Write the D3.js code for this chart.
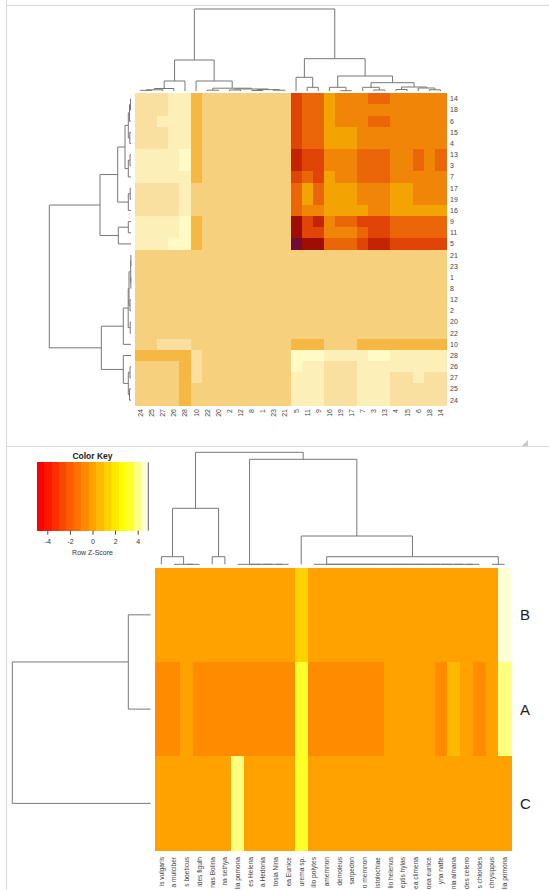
<!DOCTYPE html>
<html>
<head>
<meta charset="utf-8">
<script src="https://cdn.jsdelivr.net/npm/d3@7"></script>
<style>
  body { margin: 0; background: #fff; }
  svg { display: block; font-family: "Liberation Sans", Arial, sans-serif; }
</style>
</head>
<body>
<svg id="chart" width="549" height="890"></svg>
<script>
// ---------- TOP HEATMAP (28 x 28) ----------
var topRowLabels = ['14','18','6','15','4','13','3','7','17','19','16','9','11','5',
                    '21','23','1','8','12','2','20','22','10','28','26','27','25','24'];
var topColLabels = ['24','25','27','26','28','10','22','20','2','12','8','1','23','21',
                    '5','11','9','16','19','17','7','3','13','4','15','6','18','14'];
// colour level per cell (0 = palest, 11 = darkest), rows in topRowLabels order
var topValues = [
  [2,2,2,1,1,4,3,3,3,3,3,3,3,3,8,7,7,5,6,6,6,7,7,6,6,6,6,6],
  [2,2,2,1,1,4,3,3,3,3,3,3,3,3,8,7,7,5,6,6,6,6,6,6,6,6,6,6],
  [2,2,1,1,1,4,3,3,3,3,3,3,3,3,8,7,7,5,6,6,6,7,7,6,6,6,6,6],
  [2,2,2,1,1,4,3,3,3,3,3,3,3,3,8,7,7,5,5,5,6,6,6,6,6,6,6,6],
  [2,2,2,1,1,4,3,3,3,3,3,3,3,3,8,7,7,5,5,5,6,6,6,6,6,6,6,6],
  [1,1,1,1,0,4,3,3,3,3,3,3,3,3,9,8,8,6,6,6,7,7,7,6,6,7,6,7],
  [1,1,1,1,0,4,3,3,3,3,3,3,3,3,9,8,8,6,6,6,7,7,7,6,6,7,6,7],
  [1,1,1,1,1,4,3,3,3,3,3,3,3,3,8,7,8,5,6,6,7,7,7,6,6,6,6,6],
  [2,2,2,2,1,3,3,3,3,3,3,3,3,3,7,5,7,5,5,5,6,6,6,5,5,6,6,6],
  [2,2,2,2,1,3,3,3,3,3,3,3,3,3,7,5,7,5,5,5,6,6,6,5,5,6,6,6],
  [2,2,2,2,1,3,3,3,3,3,3,3,3,3,7,6,6,5,5,5,5,6,6,5,5,5,5,5],
  [1,1,1,1,0,4,3,3,3,3,3,3,3,3,10,8,9,6,7,7,8,8,8,7,7,7,7,7],
  [1,1,1,1,0,4,3,3,3,3,3,3,3,3,10,8,8,6,6,6,7,8,8,7,7,7,7,7],
  [1,1,1,0,0,4,3,3,3,3,3,3,3,3,11,10,10,7,7,7,8,9,9,8,8,8,8,8],
  [3,3,3,3,3,3,3,3,3,3,3,3,3,3,3,3,3,3,3,3,3,3,3,3,3,3,3,3],
  [3,3,3,3,3,3,3,3,3,3,3,3,3,3,3,3,3,3,3,3,3,3,3,3,3,3,3,3],
  [3,3,3,3,3,3,3,3,3,3,3,3,3,3,3,3,3,3,3,3,3,3,3,3,3,3,3,3],
  [3,3,3,3,3,3,3,3,3,3,3,3,3,3,3,3,3,3,3,3,3,3,3,3,3,3,3,3],
  [3,3,3,3,3,3,3,3,3,3,3,3,3,3,3,3,3,3,3,3,3,3,3,3,3,3,3,3],
  [3,3,3,3,3,3,3,3,3,3,3,3,3,3,3,3,3,3,3,3,3,3,3,3,3,3,3,3],
  [3,3,3,3,3,3,3,3,3,3,3,3,3,3,3,3,3,3,3,3,3,3,3,3,3,3,3,3],
  [3,3,3,3,3,3,3,3,3,3,3,3,3,3,3,3,3,3,3,3,3,3,3,3,3,3,3,3],
  [3,3,2,2,2,3,3,3,3,3,3,3,3,3,4,4,4,3,3,3,4,4,4,4,4,4,4,4],
  [4,4,4,4,4,2,3,3,3,3,3,3,3,3,0,0,0,1,1,1,1,0,0,1,1,1,1,1],
  [3,3,3,3,4,2,3,3,3,3,3,3,3,3,0,1,1,2,2,2,1,1,1,1,1,1,1,1],
  [3,3,3,3,4,2,3,3,3,3,3,3,3,3,1,1,1,2,2,2,1,1,1,2,2,1,2,2],
  [3,3,3,3,4,3,3,3,3,3,3,3,3,3,1,1,1,2,2,2,1,1,1,2,2,2,2,2],
  [3,3,3,3,4,3,3,3,3,3,3,3,3,3,1,1,1,2,2,2,1,1,1,2,2,2,2,2]
];
var topPalette = ['#fffac6','#fcefb8','#f9e0a0','#f6d07c','#f6b843','#f3a302',
                  '#f08507','#ea6608','#e04406','#c32403','#a00d04','#730a3a'];

// dendrograms: [height, left, right]
var topColTree = [82,
  [31,
    [10, [2.5, [1.2, [0.6, '24', '25'], '27'], '26'], '28'],
    [10, '10', [2.8, [0.8, '22', '20'], [2.0, [1.0, '2', '12'], [1.4, [0.5, '8', '1'], [0.8, '23', '21']]]]]],
  [32.3,
    [13.7, '5', [3.7, '11', '9']],
    [15,
      [3.7, '16', [0.3, '19', '17']],
      [8.3,
        [3.7, '7', [1.0, '3', '13']],
        [4, [1.5, '4', '15'], [3.0, '6', [1.2, '18', '14']]]]]]];

var topRowTree = [81.7,
  [31,
    [13.3,
      [6, [2.7, [1.5, [0.5, '14', '18'], '6'], [1.2, '15', '4']], [2.7, [1.0, '13', '3'], '7']],
      [2.7, [0.8, '17', '19'], '16']],
    [12.7, [2.7, '9', '11'], '5']],
  [29.7,
    [7.7, [2.8, [2.0, [0.3, [0.1, '21', '23'], [0.15, '1', '8']], [1.0, '12', '2']], [0.8, '20', '22']], '10'],
    [7.7, '28', [2.7, [1.0, '26', '27'], [1.5, '25', '24']]]]];

// ---------- BOTTOM HEATMAP (3 x 28) ----------
var botRowLabels = ['B', 'A', 'C'];
var botColLabels = ['is vulgaris', 'Euploea mulciber', 'Lampides boeticus', 'ides figulh',
  'Hypolimnas Bolina', 'na sethya', 'Catopsilia pomona', 'Troides Helena', 'a Hedonia',
  'Leptosia Nina', 'Euploea Eunice', 'Eurema sp.', 'Papilio polytes', 'Graphium agamemnon',
  'Papilio demoleus', 'Graphium sarpedon', 'Papilio memnon', 'Pachliopta aristolochiae',
  'Papilio helenus', 'Neptis hylas', 'Euploea climena', 'Euploea eunice', 'yna nafte',
  'Junonia almana', 'Jamides celeno', 's chlorides', 'Danaus chrysippus', 'Catopsilia pomona'];
var zB = [-0.23,-0.23,-0.23,-0.23,-0.23,-0.23,-0.23,-0.23,-0.23,-0.23,-0.23,1.3,-0.23,-0.23,
          -0.23,-0.23,-0.23,-0.23,-0.23,-0.23,-0.23,-0.23,-0.23,-0.23,-0.23,-0.23,-0.23,4.7];
var zA = [-0.6,-0.6,0.0,-0.6,-0.6,-0.6,-0.6,-0.6,-0.6,-0.6,-0.6,3.3,-0.6,-0.6,
          -0.6,-0.6,-0.6,-0.6,0.0,0.0,0.0,0.0,-0.6,0.6,0.0,-0.6,0.0,3.9];
var zC = [-0.28,-0.28,-0.28,-0.28,-0.28,-0.28,3.9,-0.28,-0.28,-0.28,-0.28,3.3,-0.28,-0.28,
          -0.28,-0.28,-0.28,-0.28,-0.28,-0.28,-0.28,-0.28,-0.28,-0.28,-0.28,-0.28,-0.28,-0.28];
var botValues = [zB, zA, zC];
var zLimit = 4.94;
var keyTicks = [-4, -2, 0, 2, 4];
// R heat.colors(15)
var heatColors = ['#FF0000','#FF1700','#FF2E00','#FF4600','#FF5D00','#FF7400','#FF8B00','#FFA200',
                  '#FFB900','#FFD100','#FFE800','#FFFF00','#FFFF2A','#FFFF80','#FFFFD5'];

// flat (zero height) chain of leaves
function flat(list) {
  return list.length === 1 ? list[0] : [0, list[0], flat(list.slice(1))];
}
var botColTree = [112,
  [56, [7.6, 0, flat([1, 2, 3])], [7.6, 4, 5]],
  [105, flat([6, 7, 8, 9, 10]),
    [28.3, 11, [7.6, flat(d3.range(12, 26)), flat([26, 27])]]]];
var botRowTree = [138.4, [22.4, 'B', 'A'], 'C'];

var svg = d3.select('#chart');
var LINE = '#777';

// ---------- helpers ----------
function drawTree(g, tree, pos, hs, vertical) {
  var segs = [];
  function walk(n) {
    if (!Array.isArray(n)) return { p: pos(n), h: 0 };
    var a = walk(n[1]), b = walk(n[2]), h = n[0];
    segs.push([a.p, a.h, a.p, h], [a.p, h, b.p, h], [b.p, b.h, b.p, h]);
    return { p: (a.p + b.p) / 2, h: h };
  }
  walk(tree);
  g.selectAll('line')
    .data(segs)
    .join('line')
    .attr('x1', d => vertical ? d[0] : hs(d[1]))
    .attr('y1', d => vertical ? hs(d[1]) : d[0])
    .attr('x2', d => vertical ? d[2] : hs(d[3]))
    .attr('y2', d => vertical ? hs(d[3]) : d[2])
    .attr('stroke', LINE)
    .attr('stroke-width', 1);
}

function cells(values) {
  var out = [];
  values.forEach((row, i) => row.forEach((v, j) => out.push({ r: i, c: j, v: v })));
  return out;
}

// ---------- frame ----------
var frame = svg.append('g').attr('stroke', '#d9d9d9').attr('stroke-width', 1);
frame.append('line').attr('x1', 6.5).attr('y1', 0).attr('x2', 6.5).attr('y2', 890);
frame.append('line').attr('x1', 7).attr('y1', 5.5).attr('x2', 549).attr('y2', 5.5);
frame.append('line').attr('x1', 7).attr('y1', 446.5).attr('x2', 549).attr('y2', 446.5);
svg.append('path').attr('d', 'M522,446 L528,446 L528,440 Z').attr('fill', '#c8c8c8');

// ---------- top heatmap ----------
var tx = d3.scaleBand().domain(d3.range(topColLabels.length)).range([135, 446]);
var ty = d3.scaleBand().domain(d3.range(topRowLabels.length)).range([93.3, 405.7]);
var topColor = d3.scaleOrdinal(d3.range(topPalette.length), topPalette);

svg.append('g')
  .attr('shape-rendering', 'crispEdges')
  .selectAll('rect')
  .data(cells(topValues))
  .join('rect')
  .attr('x', d => tx(d.c))
  .attr('y', d => ty(d.r))
  .attr('width', tx.bandwidth() + 0.5)
  .attr('height', ty.bandwidth() + 0.5)
  .attr('fill', d => topColor(d.v));

svg.append('g')
  .selectAll('text')
  .data(topRowLabels)
  .join('text')
  .attr('x', 450)
  .attr('y', (d, i) => ty(i) + ty.bandwidth() / 2)
  .attr('dy', '0.35em')
  .attr('font-size', 7)
  .attr('fill', '#444')
  .text(d => d);

svg.append('g')
  .selectAll('text')
  .data(topColLabels)
  .join('text')
  .attr('transform', (d, i) => 'translate(' + (tx(i) + tx.bandwidth() / 2) + ',409) rotate(-90)')
  .attr('dy', '0.35em')
  .attr('text-anchor', 'end')
  .attr('font-size', 7)
  .attr('fill', '#444')
  .text(d => d);

drawTree(svg.append('g'), topColTree,
  d => tx(topColLabels.indexOf(d)) + tx.bandwidth() / 2,
  d3.scaleLinear().domain([0, 82]).range([91, 9]), true);
drawTree(svg.append('g'), topRowTree,
  d => ty(topRowLabels.indexOf(d)) + ty.bandwidth() / 2,
  d3.scaleLinear().domain([0, 81.7]).range([131, 49.3]), false);

// ---------- colour key ----------
var keyX = d3.scaleLinear().domain([-zLimit, zLimit]).range([36.7, 148.3]);
var zColor = d3.scaleQuantize().domain([-zLimit, zLimit]).range(heatColors);
var key = svg.append('g');
key.append('g')
  .attr('shape-rendering', 'crispEdges')
  .selectAll('rect')
  .data(heatColors)
  .join('rect')
  .attr('x', d => keyX(zColor.invertExtent(d)[0]))
  .attr('y', 462.3)
  .attr('width', d => keyX(zColor.invertExtent(d)[1]) - keyX(zColor.invertExtent(d)[0]) + 0.4)
  .attr('height', 68.4)
  .attr('fill', d => d);
key.append('line')
  .attr('x1', keyX(zLimit)).attr('x2', keyX(zLimit))
  .attr('y1', 462.3).attr('y2', 530.7)
  .attr('stroke', '#666').attr('stroke-width', 1);
var keyAxis = key.append('g')
  .attr('transform', 'translate(0,530.7)')
  .call(d3.axisBottom(keyX).tickValues(keyTicks).tickSize(4).tickPadding(4).tickFormat(d => String(d)));
keyAxis.select('.domain').remove();
keyAxis.selectAll('line').attr('stroke', '#444');
keyAxis.selectAll('text').attr('font-size', 7).attr('fill', '#333')
  .attr('font-family', '"Liberation Sans", Arial, sans-serif');
key.append('text')
  .attr('x', keyX(0)).attr('y', 458.5)
  .attr('text-anchor', 'middle')
  .attr('font-size', 8.5).attr('font-weight', 'bold').attr('fill', '#222')
  .text('Color Key');
key.append('text')
  .attr('x', keyX(0)).attr('y', 555.3)
  .attr('text-anchor', 'middle')
  .attr('font-size', 7).attr('fill', '#333')
  .text('Row Z-Score');

// ---------- bottom heatmap ----------
var bx = d3.scaleBand().domain(d3.range(botColLabels.length)).range([155, 511]);
var by = d3.scaleBand().domain(d3.range(botRowLabels.length)).range([567.7, 850.5]);

svg.append('g')
  .attr('shape-rendering', 'crispEdges')
  .selectAll('rect')
  .data(cells(botValues))
  .join('rect')
  .attr('x', d => bx(d.c))
  .attr('y', d => by(d.r))
  .attr('width', bx.bandwidth() + 0.5)
  .attr('height', by.bandwidth() + 0.5)
  .attr('fill', d => zColor(d.v));

svg.append('g')
  .selectAll('text')
  .data(botRowLabels)
  .join('text')
  .attr('x', 520)
  .attr('y', (d, i) => by(i) + by.bandwidth() / 2)
  .attr('dy', '0.36em')
  .attr('font-size', 15)
  .attr('fill', '#222')
  .text(d => d);

// species labels: only the tail that fits above the bottom edge is shown (as in the original)
var labelTop = 857, labelRoom = 890 - labelTop - 0.5;
svg.append('g')
  .selectAll('text')
  .data(botColLabels)
  .join('text')
  .attr('transform', (d, i) => 'translate(' + (bx(i) + bx.bandwidth() / 2) + ',' + labelTop + ') rotate(-90)')
  .attr('dy', '0.35em')
  .attr('text-anchor', 'end')
  .attr('font-size', 6.6)
  .attr('fill', '#444')
  .text(d => d)
  .each(function(d) {
    var s = d;
    while (s.length > 1 && this.getComputedTextLength() > labelRoom) {
      s = s.slice(1);
      d3.select(this).text(s);
    }
  });

drawTree(svg.append('g'), botColTree,
  d => bx(d) + bx.bandwidth() / 2,
  d3.scaleLinear().domain([0, 112]).range([564.3, 452.3]), true);
drawTree(svg.append('g'), botRowTree,
  d => by(botRowLabels.indexOf(d)) + by.bandwidth() / 2,
  d3.scaleLinear().domain([0, 138.4]).range([150.7, 12.3]), false);
</script>
</body>
</html>
